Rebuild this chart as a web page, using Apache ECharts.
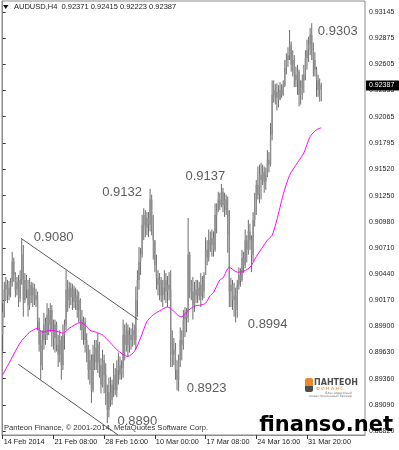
<!DOCTYPE html>
<html><head><meta charset="utf-8">
<script src="https://cdn.jsdelivr.net/npm/echarts@6/dist/echarts.min.js"></script>
<style>html,body{margin:0;padding:0;background:#fff}#c{width:399px;height:450px}</style>
</head><body><div id="c"></div>
<script>
// ---- data ----
const symbolName = 'AUDUSD,H4';
const xTickIdx = [0, 32, 64, 96, 128, 160, 192];
const xTickLabels = ['14 Feb 2014', '21 Feb 08:00', '28 Feb 16:00', '10 Mar 00:00', '17 Mar 08:00', '24 Mar 16:00', '31 Mar 20:00'];
const yTickValues = [0.93145, 0.92875, 0.92605, 0.92335, 0.92065, 0.91795, 0.91520, 0.91250, 0.90980, 0.90710, 0.90440, 0.90170, 0.89900, 0.89630, 0.89360, 0.89090, 0.88820];

const open = [
.8981,.9005,.9028,.9033,.9022,.9030,.9035,.9057,.9043,.9028,
.9036,.9019,.9038,.9064,.9017,.9038,.9028,.9012,.9033,.9022,
.9030,.9017,.9022,.8995,.8971,.8950,.8976,.8992,.8981,.9002,
.8992,.9007,.8986,.8978,.8992,.8971,.8961,.8976,.8950,.8981,
.8992,.9028,.9017,.9030,.9020,.9028,.9015,.9022,.9007,.9017,
.8997,.8986,.8995,.8976,.8966,.8945,.8955,.8924,.8961,.8968,
.8953,.8971,.8950,.8930,.8955,.8940,.8919,.8904,.8922,.8914,
.8930,.8940,.8924,.8945,.8950,.8940,.8947,.8981,.8971,.8986,
.8971,.8981,.8976,.8986,.8976,.9017,.9038,.9057,.9064,.9095,
.9105,.9092,.9102,.9095,.9121,.9095,.9079,.9053,.9040,.9033,
.9038,.9022,.9030,.9038,.9026,.9033,.9028,.8971,.8961,.8966,
.8945,.8935,.8955,.8976,.8971,.8997,.9002,.8999,.9064,.9033,
.9026,.9012,.9028,.9022,.9030,.9021,.9033,.9026,.9043,.9069,
.9061,.9079,.9074,.9081,.9069,.9105,.9110,.9121,.9115,.9129,
.9115,.9121,.9110,.9088,.9026,.9033,.9017,.9022,.9007,.9033,
.9043,.9038,.9061,.9053,.9079,.9069,.9088,.9079,.9064,.9100,
.9115,.9136,.9126,.9146,.9141,.9149,.9139,.9146,.9162,.9157,
.9188,.9229,.9234,.9226,.9232,.9224,.9234,.9229,.9239,.9257,
.9265,.9270,.9281,.9260,.9265,.9250,.9244,.9253,.9229,.9236,
.9244,.9250,.9267,.9275,.9281,.9291,.9275,.9265,.9255,.9244,
.9234,.92371];
const close = [
.9005,.9028,.9033,.9022,.9030,.9035,.9057,.9043,.9028,.9036,
.9019,.9038,.9064,.9017,.9038,.9028,.9012,.9033,.9022,.9030,
.9017,.9022,.8995,.8971,.8950,.8976,.8992,.8981,.9002,.8992,
.9007,.8986,.8978,.8992,.8971,.8961,.8976,.8950,.8981,.8992,
.9028,.9017,.9030,.9020,.9028,.9015,.9022,.9007,.9017,.8997,
.8986,.8995,.8976,.8966,.8945,.8955,.8924,.8961,.8968,.8953,
.8971,.8950,.8930,.8955,.8940,.8919,.8904,.8922,.8914,.8930,
.8940,.8924,.8945,.8950,.8940,.8947,.8981,.8971,.8986,.8971,
.8981,.8976,.8986,.8981,.9017,.9038,.9057,.9064,.9095,.9105,
.9092,.9102,.9095,.9121,.9095,.9079,.9053,.9040,.9033,.9038,
.9022,.9030,.9038,.9026,.9033,.9028,.8971,.8961,.8966,.8945,
.8935,.8955,.8976,.8971,.8997,.9002,.8999,.9064,.9033,.9026,
.9012,.9028,.9022,.9030,.9021,.9033,.9026,.9043,.9069,.9061,
.9079,.9074,.9081,.9069,.9105,.9110,.9121,.9115,.9129,.9115,
.9121,.9110,.9084,.9026,.9033,.9017,.9022,.9007,.9033,.9043,
.9038,.9061,.9053,.9079,.9069,.9088,.9079,.9064,.9100,.9115,
.9136,.9126,.9146,.9141,.9149,.9139,.9146,.9162,.9157,.9188,
.9229,.9234,.9226,.9232,.9224,.9234,.9229,.9239,.9257,.9265,
.9270,.9281,.9260,.9265,.9250,.9244,.9253,.9229,.9236,.9244,
.9250,.9267,.9275,.9281,.9291,.9275,.9265,.9255,.9244,.9234,
.9239,.92387];
const high = [
.9014,.9036,.9041,.9038,.9037,.9040,.9067,.9061,.9046,.9041,
.9043,.9048,.9080,.9074,.9045,.9043,.9038,.9040,.9036,.9035,
.9034,.9029,.9026,.8999,.8986,.8986,.9004,.8999,.9014,.9009,
.9014,.9012,.8997,.8997,.8995,.8981,.8986,.8980,.8992,.8997,
.9048,.9038,.9036,.9035,.9034,.9032,.9030,.9028,.9026,.9019,
.9007,.9000,.8999,.8983,.8971,.8966,.8961,.8971,.8976,.8976,
.8983,.8974,.8957,.8966,.8961,.8952,.8930,.8937,.8938,.8935,
.8952,.8947,.8955,.8963,.8959,.8955,.8997,.8992,.8994,.8992,
.8989,.8988,.8994,.8992,.9031,.9048,.9072,.9071,.9105,.9112,
.9110,.9108,.9108,.9132,.9126,.9105,.9079,.9064,.9048,.9045,
.9041,.9038,.9048,.9045,.9042,.9046,.9048,.8986,.8978,.8973,
.8955,.8961,.8989,.8986,.9007,.9010,.9009,.9102,.9067,.9038,
.9041,.9036,.9038,.9038,.9036,.9045,.9042,.9046,.9082,.9079,
.9090,.9088,.9090,.9088,.9117,.9117,.9129,.9128,.9137,.9133,
.9128,.9126,.9124,.9110,.9040,.9038,.9035,.9030,.9038,.9051,
.9050,.9069,.9067,.9090,.9084,.9100,.9096,.9084,.9108,.9128,
.9141,.9155,.9157,.9159,.9157,.9155,.9154,.9172,.9170,.9200,
.9244,.9244,.9240,.9241,.9239,.9242,.9240,.9244,.9265,.9272,
.9278,.9296,.9284,.9275,.9270,.9258,.9260,.9255,.9244,.9250,
.9260,.9275,.9286,.9289,.9298,.9303,.9283,.9273,.9258,.9250,
.9246,.92415];
const low = [
.8964,.8999,.9017,.9014,.9017,.9020,.9031,.9036,.9020,.9022,
.9010,.9015,.9033,.9000,.9014,.9019,.9000,.9007,.9014,.9010,
.9012,.9010,.8986,.8964,.8935,.8945,.8966,.8971,.8976,.8981,
.8984,.8969,.8966,.8963,.8964,.8948,.8953,.8935,.8945,.8966,
.8986,.9005,.9009,.9012,.9007,.9009,.9007,.8999,.8994,.8986,
.8976,.8971,.8963,.8953,.8935,.8930,.8911,.8922,.8945,.8945,
.8942,.8937,.8921,.8927,.8921,.8909,.8890,.8896,.8907,.8909,
.8917,.8919,.8917,.8930,.8935,.8935,.8937,.8955,.8964,.8959,
.8963,.8966,.8969,.8971,.8966,.9000,.9028,.9043,.9061,.9079,
.9082,.9084,.9082,.9088,.9084,.9059,.9046,.9028,.9022,.9017,
.9015,.9010,.9017,.9014,.9010,.9017,.8948,.8948,.8950,.8935,
.8924,.8923,.8948,.8955,.8966,.8979,.8984,.8994,.9019,.9017,
.8997,.9005,.9014,.9014,.9017,.9010,.9017,.9019,.9046,.9053,
.9057,.9067,.9062,.9062,.9067,.9086,.9108,.9110,.9113,.9108,
.9103,.9105,.9066,.9010,.9010,.9007,.9000,.8994,.8999,.9028,
.9031,.9036,.9045,.9050,.9056,.9064,.9069,.9046,.9057,.9093,
.9105,.9121,.9117,.9121,.9136,.9128,.9131,.9144,.9149,.9155,
.9182,.9221,.9219,.9213,.9216,.9224,.9226,.9228,.9237,.9250,
.9258,.9265,.9253,.9248,.9237,.9237,.9229,.9217,.9219,.9224,
.9231,.9244,.9255,.9263,.9270,.9265,.9248,.9248,.9227,.9227,
.9222,.92223];

// moving average (magenta), read at bar indices
const maIdx = [0,5,11,17,22,25,30,34,38,42,49,53,55,59,63,68,72,76,79,83,87,91,95,99,104,107,111,113,116,121,125,128,131,133,137,139,143,148,150,156,160,167,170,173,177,181,186,190,194,198,201];
const maVal = [.8940,.8955,.8973,.8984,.8988,.8984,.8986,.8985,.8983,.8988,.8994,.8990,.8986,.8984,.8981,.8973,.8966,.8961,.8959,.8964,.8978,.8995,.9002,.9006,.9010,.9007,.9001,.9000,.9005,.9011,.9012,.9014,.9022,.9025,.9038,.9040,.9051,.9046,.9046,.9051,.9062,.9079,.9084,.9100,.9126,.9146,.9159,.9169,.9186,.9193,.9195];

// channel trend lines: [barIndex, price]
const channelUpper = [[11.5, 0.9081], [85.4, 0.8997]];
const channelLower = [[9.8, 0.8951], [72.7, 0.8878]];

// annotated extremes
const annIdx  = [12, 93, 138, 111, 147, 66, 195];
const annKind = ['H', 'H', 'H', 'L', 'L', 'L', 'H'];

// ---- chart ----
const FONT = '"Liberation Sans", Arial, sans-serif';
const annOffsets = [[32, -2], [-28, 4], [-16, -8], [28, -3], [32, 2], [30, -2], [26, 8]];
const bars = open.map((o, i) => [i, o, close[i], low[i], high[i]]);
const maData = maIdx.map((ix, k) => [ix, maVal[k]]);
const annData = annIdx.map((ix, k) => ({
  value: [ix, annKind[k] === 'H' ? high[ix] : low[ix]],
  label: { offset: annOffsets[k] }
}));
const last = open.length - 1;

const chart = echarts.init(document.getElementById('c'));
chart.setOption({
  animation: false,
  grid: { left: 2, top: 1, right: 34, bottom: 15, show: true, borderColor: '#8c8c8c', borderWidth: 1, containLabel: false, outerBoundsMode: 'none' },
  xAxis: {
    type: 'value', min: -0.44, max: 228.6,
    splitLine: { show: false },
    axisLine: { show: true, lineStyle: { color: '#8c8c8c' } },
    axisTick: { show: true, customValues: xTickIdx, length: 4, lineStyle: { color: '#333' } },
    axisLabel: {
      customValues: xTickIdx,
      formatter: v => { const k = xTickIdx.indexOf(Math.round(v)); return k >= 0 ? xTickLabels[k] : ''; },
      align: 'left', margin: 3, padding: [0, 0, 0, 1], color: '#222', fontSize: 7.3, fontFamily: FONT
    }
  },
  yAxis: {
    type: 'value', position: 'right', min: 0.88779, max: 0.93259,
    splitLine: { show: false },
    axisLine: { show: true, lineStyle: { color: '#8c8c8c' } },
    axisTick: { show: true, customValues: yTickValues, length: 3, lineStyle: { color: '#333' } },
    axisLabel: { customValues: yTickValues, formatter: v => v.toFixed(5), margin: 4, color: '#222', fontSize: 7, fontFamily: FONT }
  },
  series: [
    {
      type: 'custom', data: bars, clip: true,
      encode: { x: 0, y: [1, 2, 3, 4] },
      renderItem: (params, api) => {
        const i = api.value(0);
        const pO = api.coord([i, api.value(1)]);
        const pC = api.coord([i, api.value(2)]);
        const pL = api.coord([i, api.value(3)]);
        const pH = api.coord([i, api.value(4)]);
        const x = pO[0];
        const top = Math.min(pO[1], pC[1]);
        const h = Math.max(Math.abs(pO[1] - pC[1]), 1);
        return { type: 'group', children: [
          { type: 'line', shape: { x1: x, y1: pH[1], x2: x, y2: pL[1] }, style: { stroke: '#484848', lineWidth: 0.8 } },
          { type: 'rect', shape: { x: x - 0.7, y: top, width: 1.4, height: h }, style: { fill: '#8e8e8e' } }
        ]};
      }
    },
    { type: 'line', data: maData, showSymbol: false, smooth: 0.25, lineStyle: { color: '#ff00ff', width: 1 }, z: 3 },
    { type: 'line', data: channelUpper, showSymbol: false, lineStyle: { color: '#4a4a4a', width: 0.9 }, z: 3 },
    { type: 'line', data: channelLower, showSymbol: false, lineStyle: { color: '#4a4a4a', width: 0.9 }, z: 3 },
    {
      type: 'scatter', data: annData, symbol: 'circle', symbolSize: 1, itemStyle: { color: 'rgba(0,0,0,0)' }, z: 5,
      label: { show: true, position: 'inside', formatter: p => p.value[1].toFixed(4), color: '#333', fontSize: 13, fontFamily: FONT }
    }
  ]
});

const yLast = chart.convertToPixel({ yAxisIndex: 0 }, close[last]);
chart.setOption({
  graphic: [
    { type: 'polygon', shape: { points: [[3, 5], [8.5, 5], [5.75, 9]] }, style: { fill: '#111' }, z: 10 },
    { type: 'text', x: 14, y: 7, style: { text: symbolName + '  ' + [open[last], high[last], low[last], close[last]].map(v => v.toFixed(5)).join(' '), fill: '#222', font: '7.5px ' + FONT, verticalAlign: 'middle' }, z: 10 },
    { type: 'rect', shape: { x: 366, y: yLast - 5, width: 33, height: 10 }, style: { fill: '#000' }, z: 20 },
    { type: 'text', x: 369, y: yLast, style: { text: close[last].toFixed(5), fill: '#fff', font: '7px ' + FONT, verticalAlign: 'middle' }, z: 21 },
    { type: 'text', x: 4, y: 428, style: { text: 'Panteon Finance, © 2001-2014, MetaQuotes Software Corp.', fill: '#333', font: '7.6px ' + FONT, verticalAlign: 'middle' }, z: 10 },
    { type: 'group', x: 305, y: 378, z: 10, children: [
      { type: 'rect', shape: { x: 0, y: 0, width: 8, height: 8, r: [2, 2, 0, 0] }, style: { fill: '#e8892b' } },
      { type: 'rect', shape: { x: 0, y: 8, width: 8, height: 6, r: [0, 0, 2, 2] }, style: { fill: '#4d4d4d' } },
      { type: 'text', x: 9, y: 4.5, style: { text: 'ПАНТЕОН', fill: '#4d4d4d', font: 'bold 8px "DejaVu Sans", sans-serif', verticalAlign: 'middle' } },
      { type: 'text', x: 11, y: 11, style: { text: 'Ф И Н А Н С', fill: '#e8892b', font: '4.5px "DejaVu Sans", sans-serif', verticalAlign: 'middle' } },
      { type: 'text', x: 47, y: 15, style: { text: 'Ваш надежный', fill: '#777', font: '3.3px "DejaVu Sans", sans-serif', align: 'right', verticalAlign: 'middle' } },
      { type: 'text', x: 47, y: 18.5, style: { text: 'инвестиционный брокер', fill: '#777', font: '3.3px "DejaVu Sans", sans-serif', align: 'right', verticalAlign: 'middle' } }
    ]},
    { type: 'text', x: 393, y: 436, style: { text: 'finanso.net', fill: '#000', font: 'bold 21px "DejaVu Sans", sans-serif', align: 'right', verticalAlign: 'bottom' }, z: 30 }
  ]
});
</script>
</body></html>
